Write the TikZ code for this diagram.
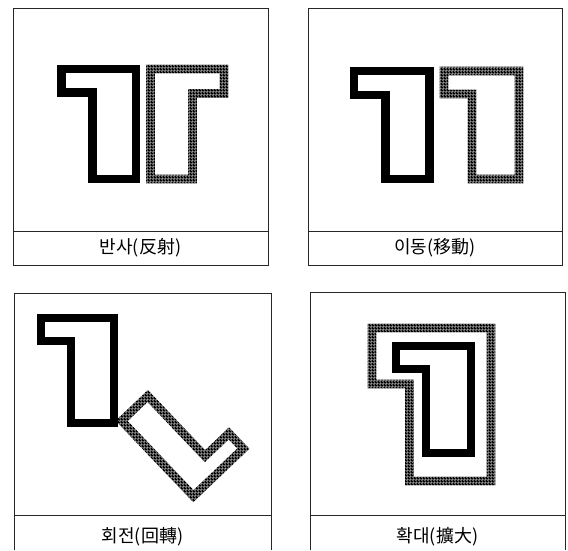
\documentclass[tikz,border=0pt]{standalone}
\usepackage{fontspec}
\newfontfamily\kr{Noto Sans CJK KR}
\usetikzlibrary{patterns}
\pgfdeclarepatternformonly{meshdots}{\pgfpointorigin}{\pgfpoint{3.3pt}{3.3pt}}{\pgfpoint{3.3pt}{3.3pt}}{%
  \pgfseteorule
  \pgfpathrectangle{\pgfpointorigin}{\pgfpoint{3.3pt}{3.3pt}}%
  \pgfpathcircle{\pgfpoint{1.65pt}{1.65pt}}{0.8pt}%
  \pgfusepath{fill}}
\tikzset{
  frame/.style={draw=black!85, line width=0.8pt},
  solidone/.style={draw=black, line width=8.5pt, line join=miter},
  meshone/.style={pattern=meshdots, pattern color=black, even odd rule},
  caption/.style={font=\kr\fontsize{18}{20}\selectfont, inner sep=0pt, anchor=center}
}
% L T R B S N  (centre line of the stroke, y downwards)
\newcommand{\blackone}[6]{%
  \draw[solidone] (#1,#2) -- (#3,#2) -- (#3,#4) -- (#5,#4) -- (#5,#6) -- (#1,#6) -- cycle;}
\newcommand{\meshring}[6]{%
  \fill[meshone] ({#1-4.3},{#2-4.3}) -- ({#3+4.3},{#2-4.3}) -- ({#3+4.3},{#4+4.3}) -- ({#5-4.3},{#4+4.3}) -- ({#5-4.3},{#6+4.3}) -- ({#1-4.3},{#6+4.3}) -- cycle
    ({#1+4.3},{#2+4.3}) -- ({#3-4.3},{#2+4.3}) -- ({#3-4.3},{#4-4.3}) -- ({#5+4.3},{#4-4.3}) -- ({#5+4.3},{#6-4.3}) -- ({#1+4.3},{#6-4.3}) -- cycle;}
\begin{document}
\begin{tikzpicture}[x=1pt, y=-1pt]
\useasboundingbox[fill=white] (0,0) rectangle (568,550);

% ---------- panel 1 : reflection ----------
\draw[frame] (13,8) rectangle (268,265);
\draw[frame] (13,231) -- (268,231);
\blackone{61.5}{69}{136}{179}{92.5}{92.5}
\begin{scope}[xscale=-1]
  \meshring{-224}{69}{-150.5}{179}{-192.5}{93.5}
\end{scope}
\node[caption] (cap1) at (140.5,248) {반사(反射)};

% ---------- panel 2 : translation ----------
\draw[frame] (308,8) rectangle (562,265);
\draw[frame] (308,231) -- (562,231);
\blackone{354}{71}{429.5}{179}{385.5}{95}
\meshring{444}{71}{519}{179}{472}{94}
\node[caption] (cap2) at (435,248) {이동(移動)};

% ---------- panel 3 : rotation ----------
\draw[frame] (14,550) -- (14,293) -- (271,293) -- (271,550);
\draw[frame] (14,515) -- (271,515);
\blackone{41}{318}{114}{423}{71}{341}
\begin{scope}[shift={(182.5,434.7)}, rotate=223.6]
  \meshring{-34.5}{-52}{34.5}{52}{-1.5}{-31}
\end{scope}
\node[caption] (cap3) at (142.5,537) {회전(回轉)};

% ---------- panel 4 : enlargement ----------
\draw[frame] (310,550) -- (310,292) -- (565,292) -- (565,550);
\draw[frame] (310,515) -- (565,515);
\meshring{372}{328}{491}{481}{409.5}{384}
\blackone{396}{346}{471}{453}{426}{369}
\node[caption] (cap4) at (437.5,537) {확대(擴大)};
\end{tikzpicture}
\end{document}
